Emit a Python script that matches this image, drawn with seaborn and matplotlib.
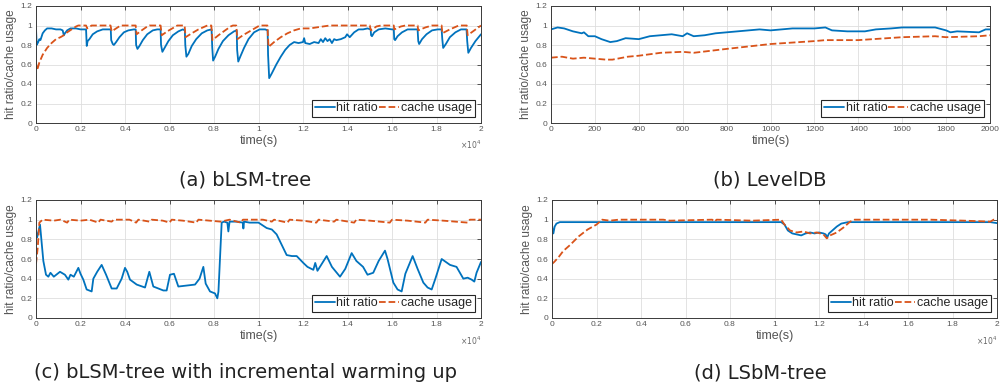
import numpy as np
import pandas as pd
import matplotlib
matplotlib.use("Agg")
import matplotlib.pyplot as plt
import seaborn as sns

# --- data (time in s, ratio 0..1) ---

# (a) bLSM-tree
a_hit_t = [0, 30, 100, 150, 200, 300, 400, 500, 700, 900, 1100, 1200, 1250, 1300, 1400, 1550, 1800, 2000, 2250,
           2280, 2320, 2400, 2550, 2750, 3000, 3200, 3360,
           3380, 3450, 3500, 3600, 3750, 3950, 4150, 4400, 4480,
           4500, 4560, 4650, 4800, 5000, 5250, 5450, 5600,
           5620, 5680, 5780, 5950, 6150, 6400, 6600, 6690,
           6710, 6760, 6850, 7000, 7200, 7450, 7700, 7890,
           7920, 7960, 8050, 8200, 8400, 8650, 8900, 9020,
           9040, 9090, 9180, 9350, 9550, 9800, 10050, 10300, 10410,
           10430, 10480, 10600, 10800, 11000, 11200, 11400, 11600, 11800, 12000, 12050, 12100, 12300, 12500,
           12700, 12800, 12900, 13000, 13100, 13200, 13300, 13400, 13500, 13700, 13900, 13980, 14100, 14300,
           14500, 14700, 14900, 15040,
           15060, 15100, 15200, 15400, 15700, 16000, 16080,
           16100, 16140, 16250, 16450, 16700, 17000, 17150,
           17180, 17220, 17350, 17550, 17800, 18050, 18230,
           18260, 18300, 18420, 18600, 18850, 19100, 19350,
           19380, 19430, 19550, 19750, 20000]
a_hit_v = [0.97, 0.80, 0.83, 0.86, 0.85, 0.92, 0.95, 0.97, 0.97, 0.96, 0.96, 0.95, 0.90, 0.92, 0.95, 0.97, 0.97, 0.96, 0.96,
           0.79, 0.84, 0.86, 0.91, 0.94, 0.96, 0.96, 0.96,
           0.85, 0.81, 0.80, 0.83, 0.88, 0.93, 0.95, 0.96, 0.96,
           0.80, 0.76, 0.79, 0.85, 0.91, 0.95, 0.96, 0.96,
           0.80, 0.73, 0.77, 0.84, 0.90, 0.94, 0.96, 0.95,
           0.80, 0.68, 0.71, 0.79, 0.86, 0.92, 0.95, 0.96,
           0.78, 0.64, 0.68, 0.76, 0.84, 0.90, 0.94, 0.95,
           0.75, 0.63, 0.68, 0.77, 0.86, 0.93, 0.96, 0.96, 0.95,
           0.70, 0.46, 0.51, 0.60, 0.68, 0.75, 0.80, 0.83, 0.82, 0.83, 0.87, 0.82, 0.81, 0.83,
           0.82, 0.86, 0.83, 0.87, 0.84, 0.86, 0.82, 0.86, 0.85, 0.86, 0.88, 0.91, 0.88, 0.93,
           0.96, 0.96, 0.97, 0.96,
           0.90, 0.89, 0.93, 0.96, 0.97, 0.96, 0.96,
           0.86, 0.85, 0.89, 0.93, 0.96, 0.96, 0.96,
           0.84, 0.81, 0.86, 0.91, 0.95, 0.96, 0.96,
           0.86, 0.77, 0.81, 0.88, 0.93, 0.96, 0.96,
           0.84, 0.72, 0.77, 0.84, 0.91]

a_use_t = [0, 50, 150, 300, 500, 700, 900, 1100, 1250, 1400, 1600, 1800, 1900, 2250, 2300, 2500,
           3350, 3400, 3600, 3800, 4480, 4520, 4750, 5000, 5100, 5600, 5650, 5900, 6200, 6350,
           6680, 6720, 7000, 7300, 7600, 7700, 7880, 7930, 8200, 8500, 8750, 8850, 9000, 9050, 9300,
           9600, 9900, 10050, 10400, 10450, 10700, 11000, 11300, 11600, 11900, 12300, 12600, 12900, 13200,
           15000, 15050, 15300, 15500, 16080, 16100, 16400, 16600, 17150, 17180, 17500, 17800,
           18230, 18260, 18600, 18900, 19000, 19360, 19400, 19700, 20000]
a_use_v = [0.62, 0.54, 0.62, 0.70, 0.77, 0.82, 0.86, 0.88, 0.90, 0.93, 0.96, 0.99, 1.0, 1.0, 0.97, 1.0,
           1.0, 0.94, 0.97, 1.0, 1.0, 0.91, 0.95, 0.99, 1.0, 1.0, 0.90, 0.94, 0.98, 1.0,
           1.0, 0.88, 0.92, 0.96, 0.99, 1.0, 1.0, 0.85, 0.90, 0.95, 0.99, 1.0, 1.0, 0.86, 0.90,
           0.94, 0.98, 1.0, 1.0, 0.78, 0.83, 0.88, 0.92, 0.95, 0.97, 0.97, 0.98, 0.99, 1.0,
           1.0, 0.95, 0.99, 1.0, 1.0, 0.96, 0.99, 1.0, 1.0, 0.95, 0.98, 1.0,
           1.0, 0.92, 0.96, 0.99, 1.0, 1.0, 0.90, 0.95, 1.0]

# (b) LevelDB
b_hit_t = [0, 30, 60, 100, 140, 150, 170, 200, 230, 270, 300, 340, 400, 450, 500, 550, 600, 620, 650, 700,
           750, 800, 900, 950, 1000, 1100, 1200, 1250, 1280, 1350, 1430, 1480, 1550, 1600, 1700, 1750,
           1800, 1820, 1850, 1950, 1980, 2000]
b_hit_v = [0.96, 0.98, 0.97, 0.94, 0.92, 0.93, 0.89, 0.89, 0.86, 0.83, 0.84, 0.87, 0.86, 0.89, 0.90, 0.91, 0.89, 0.92, 0.89, 0.90,
           0.92, 0.93, 0.95, 0.96, 0.95, 0.97, 0.97, 0.98, 0.95, 0.94, 0.94, 0.96, 0.97, 0.98, 0.98, 0.98,
           0.95, 0.93, 0.94, 0.93, 0.96, 0.96]
b_use_t = [0, 50, 100, 150, 250, 280, 350, 400, 500, 600, 650, 800, 1000, 1200, 1250, 1400, 1600, 1750, 1800, 1950, 2000]
b_use_v = [0.67, 0.68, 0.66, 0.67, 0.65, 0.65, 0.68, 0.69, 0.72, 0.73, 0.72, 0.76, 0.81, 0.84, 0.85, 0.85, 0.88, 0.89, 0.88, 0.89, 0.90]

# (c) bLSM-tree with incremental warming up
c_hit_t = [0, 50, 180, 330, 450, 555, 650, 800, 1078, 1300, 1453, 1550, 1700, 1903, 2000, 2127, 2277, 2502, 2577,
           2750, 2951, 3150, 3401, 3626, 3850, 4000, 4100, 4225, 4525, 4900, 5093, 5273, 5500, 5722, 5872,
           6022, 6200, 6397, 6772, 7147, 7350, 7521, 7626, 7820, 8045, 8150, 8200, 8345, 8450, 8600, 8645,
           8700, 9000, 9300, 9320, 9350, 9600, 10000, 10367, 10600, 10816, 11116, 11266, 11500, 11716, 12015,
           12200, 12464, 12550, 12650, 13064, 13300, 13663, 13900, 14187, 14400, 14700, 14900, 15157, 15400,
           15685, 15800, 16060, 16250, 16434, 16600, 16928, 17150, 17408, 17600, 17783, 17950, 18232, 18607,
           18900, 19206, 19400, 19581, 19700, 19800, 20000]
c_hit_v = [0.88, 0.82, 0.95, 0.58, 0.44, 0.42, 0.46, 0.42, 0.47, 0.44, 0.39, 0.44, 0.42, 0.51, 0.45, 0.39, 0.29, 0.27, 0.40,
           0.47, 0.54, 0.44, 0.30, 0.30, 0.40, 0.51, 0.47, 0.39, 0.34, 0.31, 0.47, 0.32, 0.30, 0.28, 0.28,
           0.44, 0.45, 0.32, 0.33, 0.34, 0.40, 0.52, 0.35, 0.27, 0.25, 0.20, 0.27, 0.97, 0.98, 0.97, 0.88,
           0.98, 0.98, 0.97, 0.91, 0.98, 0.97, 0.97, 0.915, 0.90, 0.85, 0.71, 0.64, 0.63, 0.63, 0.56,
           0.52, 0.49, 0.56, 0.48, 0.63, 0.52, 0.42, 0.50, 0.66, 0.58, 0.52, 0.44, 0.46, 0.58,
           0.685, 0.60, 0.36, 0.29, 0.27, 0.45, 0.63, 0.50, 0.36, 0.31, 0.29, 0.40, 0.60, 0.54,
           0.52, 0.40, 0.41, 0.39, 0.37, 0.46, 0.57]
c_use_t = [0, 80, 150, 300, 800, 1100, 1400, 1500, 2000, 2400, 2800, 2900, 3400, 3500, 4200, 4500, 4600, 5100,
           5200, 5700, 6000, 6100, 6600, 7200, 7300, 7800, 8300, 8700, 9200, 9300, 10200, 10600, 10700,
           11300, 11400, 12000, 12600, 12700, 13400, 13500, 14300, 14400, 15000, 15900, 16000, 16700,
           17500, 17600, 18300, 19400, 19500, 20000]
c_use_v = [0.55, 0.72, 0.97, 1.0, 0.99, 1.0, 0.97, 1.0, 0.99, 1.0, 0.97, 1.0, 0.98, 1.0, 1.0, 0.97, 1.0, 0.98,
           1.0, 0.99, 0.97, 1.0, 0.99, 0.97, 1.0, 0.99, 0.98, 1.0, 0.97, 1.0, 1.0, 0.98, 1.0,
           0.97, 1.0, 0.99, 0.97, 1.0, 0.98, 1.0, 0.97, 1.0, 0.99, 0.97, 1.0, 0.99,
           0.97, 1.0, 0.99, 0.97, 1.0, 1.0]

# (d) LSbM-tree
d_hit_t = [0, 30, 60, 120, 200, 350, 1000, 5000, 10300, 10450, 10600, 10800, 11000, 11200, 11400, 11600,
           11800, 12000, 12200, 12300, 12370, 12450, 12600, 12800, 13000, 13300, 16000, 19700, 20000]
d_hit_v = [0.95, 0.88, 0.86, 0.93, 0.96, 0.975, 0.975, 0.975, 0.975, 0.95, 0.89, 0.86, 0.85, 0.84, 0.86, 0.87,
           0.86, 0.87, 0.86, 0.85, 0.82, 0.86, 0.89, 0.93, 0.96, 0.975, 0.975, 0.975, 0.965]
d_use_t = [0, 100, 300, 500, 800, 1200, 1600, 2000, 2250, 2600, 3000, 4000, 5000, 5300, 7200, 7300, 7400,
           9000, 10300, 10450, 10700, 11000, 11300, 11600, 11900, 12200, 12350, 12500, 12800, 13100, 13400,
           13600, 17000, 18500, 19700, 19850, 20000]
d_use_v = [0.55, 0.57, 0.62, 0.68, 0.74, 0.83, 0.90, 0.95, 1.0, 0.99, 1.0, 1.0, 1.0, 0.99, 1.0, 0.98, 1.0,
           0.99, 1.0, 0.95, 0.89, 0.87, 0.88, 0.86, 0.87, 0.85, 0.81, 0.84, 0.87, 0.92, 0.98,
           1.0, 1.0, 0.99, 0.98, 1.0, 1.0]

captions = ["(a) bLSM-tree", "(b) LevelDB",
            "(c) bLSM-tree with incremental warming up", "(d) LSbM-tree"]

BLUE = "#0072BD"
ORANGE = "#D95319"
AX_COL = "#3a3a3a"

sns.set_style("whitegrid")
plt.rcParams['font.family'] = ['Liberation Sans', 'DejaVu Sans']


def draw_panel(ax, hit_t, hit_v, use_t, use_v, long_x=True):
    sns.lineplot(x=hit_t, y=hit_v, ax=ax, color=BLUE, lw=1.3, errorbar=None,
                 label="hit ratio")
    sns.lineplot(x=use_t, y=use_v, ax=ax, color=ORANGE, lw=1.3, errorbar=None,
                 linestyle="--", dashes=(3, 3), label="cache usage")

    ax.set_ylim(0, 1.2)
    ax.set_yticks([0, 0.2, 0.4, 0.6, 0.8, 1.0, 1.2])
    ax.set_yticklabels(["0", "0.2", "0.4", "0.6", "0.8", "1", "1.2"])
    if long_x:
        ax.set_xlim(0, 20000)
        ax.set_xticks(np.arange(0, 20001, 2000))
        ax.set_xticklabels(["0", "0.2", "0.4", "0.6", "0.8", "1", "1.2", "1.4", "1.6", "1.8", "2"])
        ax.text(1.0, -0.19, r"$\times10^4$", transform=ax.transAxes, ha="right", va="center",
                fontsize=5.5, color="#666666")
    else:
        ax.set_xlim(0, 2000)
        ax.set_xticks(np.arange(0, 2001, 200))
        ax.set_xticklabels([str(v) for v in range(0, 2001, 200)])

    ax.set_xlabel("time(s)", fontsize=9, color="#555555", labelpad=1)
    ax.set_ylabel("hit ratio/cache usage", fontsize=8.6, color="#555555", labelpad=3)

    ax.grid(True, color="#dedede", lw=0.6)
    for sp in ax.spines.values():
        sp.set_color(AX_COL)
        sp.set_linewidth(0.7)
    ax.tick_params(direction="in", top=True, right=True, length=3, width=0.6,
                   colors=AX_COL, labelsize=6, labelcolor="#555555", pad=2.5)

    leg = ax.legend(loc="lower right", ncol=2, fontsize=9, frameon=True, fancybox=False,
                    handlelength=1.6, handletextpad=0.15, columnspacing=0.1,
                    borderpad=0.2, borderaxespad=0.5)
    leg.get_frame().set_edgecolor("#262626")
    leg.get_frame().set_linewidth(0.8)
    leg.get_frame().set_alpha(1)


fig = plt.figure(figsize=(10.08, 3.91), dpi=100)

ax_a = fig.add_axes([36 / 1008, 268 / 391, 445 / 1008, 117 / 391])
ax_b = fig.add_axes([551 / 1008, 268 / 391, 439 / 1008, 117 / 391])
ax_c = fig.add_axes([36 / 1008, 73 / 391, 445 / 1008, 118 / 391])
ax_d = fig.add_axes([552 / 1008, 73 / 391, 445 / 1008, 118 / 391])

draw_panel(ax_a, a_hit_t, a_hit_v, a_use_t, a_use_v)
draw_panel(ax_b, b_hit_t, b_hit_v, b_use_t, b_use_v, long_x=False)
draw_panel(ax_c, c_hit_t, c_hit_v, c_use_t, c_use_v)
draw_panel(ax_d, d_hit_t, d_hit_v, d_use_t, d_use_v)

# sub-captions under each panel
cap_pos = [(245, 180), (770, 180), (245, 373), (760, 373)]
for txt, (px, py) in zip(captions, cap_pos):
    fig.text(px / 1008, 1 - py / 391, txt, ha="center", va="center", fontsize=14,
             color="#222222", family="DejaVu Sans")

fig.savefig("out.png", dpi=100)
print("saved out.png")
